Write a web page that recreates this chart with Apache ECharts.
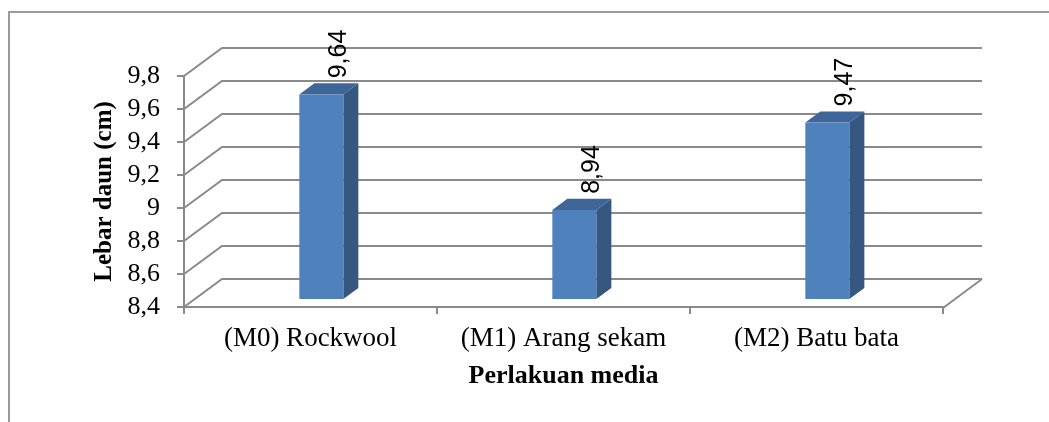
<!DOCTYPE html>
<html>
<head>
<meta charset="utf-8">
<script src="https://cdn.jsdelivr.net/npm/echarts@6/dist/echarts.min.js"></script>
<style>
  html, body { margin: 0; padding: 0; background: #ffffff; }
  #chart { width: 1049px; height: 422px; }
</style>
</head>
<body>
<div id="chart"></div>
<script>
// Leaf width per growing medium
const categories = ['(M0) Rockwool', '(M1) Arang sekam', '(M2) Batu bata'];
const lebarDaun = [9.64, 8.94, 9.47];
const yTicks = [8.4, 8.6, 8.8, 9.0, 9.2, 9.4, 9.6, 9.8];
const yMin = 8.4, yMax = 9.8, yStep = 0.2;

// Perspective depth of the chart box (floor / side walls)
const DEPTH_X = 38, DEPTH_Y = -28;
const GRID_COLOR = '#8a8a8a';
const SERIF = '"Liberation Serif", "Times New Roman", serif';

const fmt = v => String(Math.round(v * 100) / 100).replace('.', ',');

const chart = echarts.init(document.getElementById('chart'), null, { renderer: 'canvas' });

// Back wall + left wall gridlines
function renderGrid(params, api) {
  const cs = params.coordSys;
  const v = api.value(1);
  const p = api.coord([0, v]);
  const left = cs.x, right = cs.x + cs.width;
  const y = p[1];
  const children = [{
    type: 'polyline',
    shape: { points: [[left, y], [left + DEPTH_X, y + DEPTH_Y], [right + DEPTH_X + 1, y + DEPTH_Y]] },
    style: { stroke: GRID_COLOR, lineWidth: 2, fill: null }
  }];
  if (params.dataIndex === 0) {
    children.push({
      type: 'line',
      shape: { x1: right, y1: y + 1, x2: right + DEPTH_X + 1, y2: y + DEPTH_Y },
      style: { stroke: GRID_COLOR, lineWidth: 2 }
    });
  }
  return { type: 'group', children };
}

// 3D column: front, side and top faces plus a rotated value label
function renderBar(params, api) {
  const i = api.value(0), v = api.value(1);
  const base = api.coord([i, yMin]);
  const top = api.coord([i, v]);
  const band = api.size([1, 0])[0];
  const w = band * 0.174;
  const f0 = 0.285, f1 = 0.68;
  const ox = DEPTH_X * f0, oy = DEPTH_Y * f0;
  const dx = DEPTH_X * (f1 - f0), dy = DEPTH_Y * (f1 - f0);
  const x0 = base[0] - w / 2 + ox, x1 = base[0] + w / 2 + ox;
  const yb = base[1] + oy, yt = top[1] + oy;
  return {
    type: 'group',
    children: [
      { type: 'polygon', shape: { points: [[x1, yb], [x1 + dx, yb + dy], [x1 + dx, yt + dy], [x1, yt]] },
        style: { fill: '#36577f' } },
      { type: 'polygon', shape: { points: [[x0, yt], [x1, yt], [x1 + dx, yt + dy], [x0 + dx, yt + dy]] },
        style: { fill: '#3e6698' } },
      { type: 'rect', shape: { x: x0, y: yt, width: w, height: yb - yt },
        style: { fill: '#4f81bd' } },
      { type: 'text', x: base[0] + 29, y: yt + dy - 5, rotation: Math.PI / 2,
        style: { text: fmt(v), fill: '#000', font: '25px "Liberation Sans", Arial, sans-serif',
                 align: 'left', verticalAlign: 'middle' } }
    ]
  };
}

chart.setOption({
  animation: false,
  backgroundColor: '#ffffff',
  grid: { left: 184, right: 106, top: 76, bottom: 115, containLabel: false },
  graphic: [{
    type: 'rect', silent: true, z: 0,
    shape: { x: 9, y: 12, width: 1200, height: 600 },
    style: { fill: null, stroke: '#9a9a9a', lineWidth: 2 }
  }],
  xAxis: {
    type: 'category',
    data: categories,
    name: 'Perlakuan media',
    nameLocation: 'middle',
    nameGap: 56,
    nameTextStyle: { fontFamily: SERIF, fontWeight: 'bold', fontSize: 26, color: '#000' },
    axisLine: { show: true, lineStyle: { color: GRID_COLOR, width: 2 } },
    axisTick: { show: true, length: 7, interval: 0, lineStyle: { color: GRID_COLOR, width: 2 } },
    axisLabel: { margin: 18, interval: 0, fontFamily: SERIF, fontSize: 27, color: '#000' },
    splitLine: { show: false }
  },
  yAxis: {
    type: 'value',
    min: yMin, max: yMax, interval: yStep,
    name: 'Lebar daun (cm)',
    nameLocation: 'middle',
    nameGap: 66,
    nameRotate: 90,
    nameTextStyle: { fontFamily: SERIF, fontWeight: 'bold', fontSize: 25, color: '#000' },
    axisLine: { show: true, lineStyle: { color: GRID_COLOR, width: 2 } },
    axisTick: { show: true, length: 7, lineStyle: { color: GRID_COLOR, width: 2 } },
    axisLabel: { margin: 24, formatter: v => fmt(v), fontFamily: SERIF, fontSize: 26, color: '#000' },
    splitLine: { show: false }
  },
  series: [
    {
      type: 'custom', name: 'grid', clip: false, z: 1, silent: true,
      renderItem: renderGrid,
      data: yTicks.map(v => [0, v])
    },
    {
      type: 'custom', name: 'Lebar daun', clip: false, z: 2,
      renderItem: renderBar,
      data: lebarDaun.map((v, i) => [i, v])
    }
  ]
});
</script>
</body>
</html>
